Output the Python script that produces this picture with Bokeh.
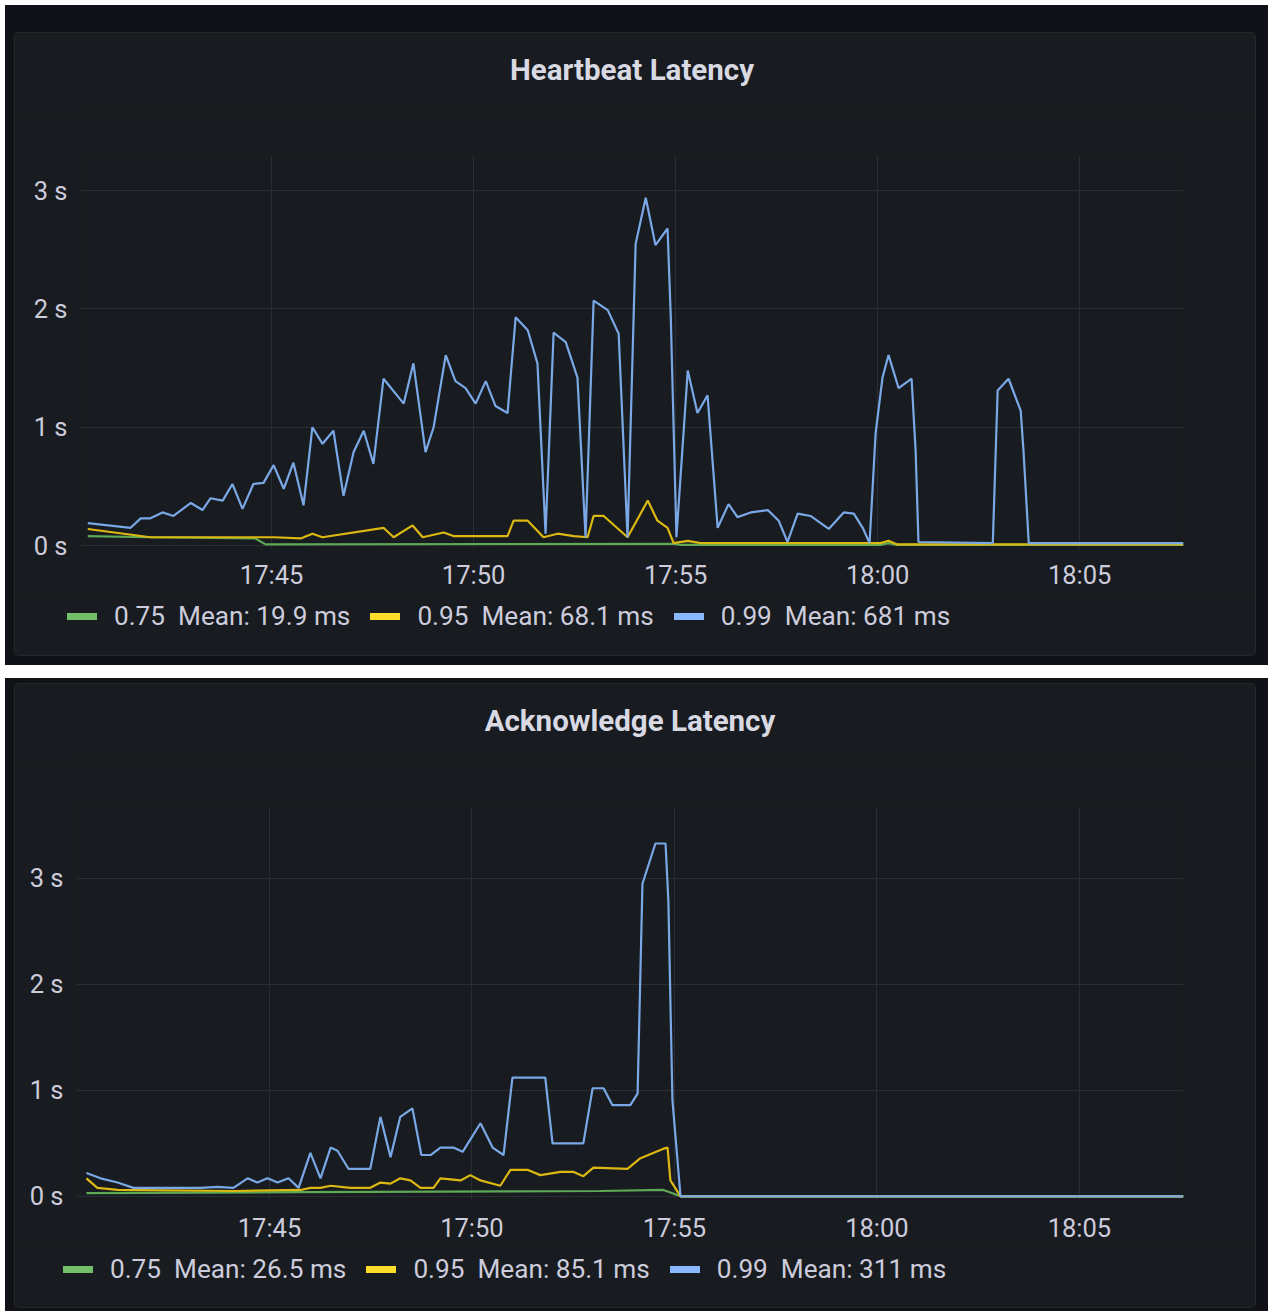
from bokeh.plotting import figure
from bokeh.models import (Column, Legend, LegendItem, FixedTicker, PrintfTickFormatter,
                          Range1d)
from bokeh.embed import file_html
from bokeh.resources import INLINE

# ---------------- data (time = minutes after 17:40, value = seconds) ----------------
x_tick_pos = [5, 10, 15, 20, 25]
x_tick_labels = ["17:45", "17:50", "17:55", "18:00", "18:05"]
y_ticks = [0, 1, 2, 3]

series_names = ["0.75", "0.95", "0.99"]
series_colors = ["#73bf69", "#fade2a", "#8ab8ff"]
line_colors = ["#5ea955", "#dcb812", "#7aa8e6"]

hb_title = "Heartbeat Latency"
hb_means = ["19.9 ms", "68.1 ms", "681 ms"]

hb_t75 = [0.45, 2.00, 4.60, 4.85, 14.95, 15.12, 20.07, 20.27, 20.47, 27.57]
hb_v75 = [0.08, 0.07, 0.06, 0.01, 0.015, 0.005, 0.005, 0.02, 0.005, 0.005]

hb_t95 = [0.45, 2.00, 5.05, 5.72, 6.01, 6.26, 7.77, 8.02, 8.49, 8.74, 9.26, 9.50, 10.84,
          10.99, 11.34, 11.73, 12.08, 12.48, 12.82, 12.97, 13.22, 13.81, 14.31, 14.55,
          14.80, 14.95, 15.30, 15.62, 20.07, 20.27, 20.47, 27.57]
hb_v95 = [0.14, 0.07, 0.07, 0.06, 0.10, 0.07, 0.15, 0.07, 0.17, 0.07, 0.11, 0.08, 0.08,
          0.21, 0.21, 0.07, 0.10, 0.08, 0.07, 0.25, 0.25, 0.07, 0.38, 0.21,
          0.15, 0.02, 0.04, 0.02, 0.02, 0.04, 0.01, 0.01]

hb_t99 = [0.45, 1.51, 1.76, 2.00, 2.30, 2.57, 3.00, 3.29, 3.49, 3.79,
          4.03, 4.28, 4.55, 4.80, 5.05, 5.30, 5.54, 5.79, 6.01, 6.26,
          6.53, 6.78, 7.03, 7.28, 7.52, 7.77, 8.27, 8.51, 8.81, 9.01,
          9.31, 9.55, 9.80, 10.05, 10.30, 10.54, 10.84, 11.04, 11.34, 11.58,
          11.78, 11.98, 12.28, 12.57, 12.77, 12.97, 13.32, 13.59, 13.81, 14.01,
          14.26, 14.50, 14.80, 14.88, 15.02, 15.30, 15.54, 15.79, 16.04, 16.31,
          16.53, 16.86, 17.28, 17.55, 17.77, 18.02, 18.34, 18.59, 18.79, 19.16,
          19.41, 19.63, 19.80, 19.95, 20.12, 20.27, 20.52, 20.84, 20.94, 21.01,
          22.85, 22.97, 23.24, 23.54, 23.61, 23.74, 27.57]
hb_v99 = [0.19, 0.15, 0.23, 0.23, 0.28, 0.25, 0.36, 0.30, 0.40, 0.38,
          0.52, 0.31, 0.52, 0.53, 0.68, 0.48, 0.70, 0.34, 1.00, 0.86,
          0.97, 0.42, 0.79, 0.97, 0.69, 1.41, 1.20, 1.54, 0.79, 1.00,
          1.61, 1.39, 1.33, 1.20, 1.39, 1.18, 1.12, 1.93, 1.82, 1.54,
          0.10, 1.80, 1.72, 1.42, 0.07, 2.07, 1.99, 1.79, 0.07, 2.55,
          2.94, 2.54, 2.68, 1.93, 0.07, 1.48, 1.12, 1.27, 0.15, 0.35,
          0.24, 0.28, 0.30, 0.21, 0.03, 0.27, 0.25, 0.19, 0.14, 0.28,
          0.27, 0.15, 0.02, 0.95, 1.42, 1.61, 1.33, 1.41, 0.80, 0.03,
          0.02, 1.31, 1.41, 1.14, 0.80, 0.02, 0.02]

ack_title = "Acknowledge Latency"
ack_means = ["26.5 ms", "85.1 ms", "311 ms"]

ack_t75 = [0.48, 5.77, 13.17, 14.73, 15.15, 27.57]
ack_v75 = [0.03, 0.04, 0.05, 0.06, 0.0, 0.0]

ack_t95 = [0.48, 0.75, 1.25, 4.11, 5.77, 6.01, 6.26, 6.51, 7.00, 7.49, 7.74, 7.99, 8.23,
           8.48, 8.73, 9.05, 9.22, 9.72, 9.96, 10.21, 10.70, 10.95, 11.37, 11.69, 12.19,
           12.51, 12.75, 13.00, 13.84, 14.16, 14.73, 14.83, 14.90, 15.15, 27.57]
ack_v95 = [0.17, 0.08, 0.06, 0.05, 0.06, 0.08, 0.08, 0.10, 0.08, 0.08, 0.13, 0.12, 0.17,
           0.15, 0.08, 0.08, 0.17, 0.15, 0.20, 0.15, 0.10, 0.25, 0.25, 0.20, 0.23,
           0.23, 0.19, 0.27, 0.26, 0.36, 0.45, 0.46, 0.15, 0.0, 0.0]

ack_t99 = [0.48, 0.83, 1.25, 1.64, 2.48, 3.30, 3.72, 4.11, 4.46, 4.70, 4.95, 5.20, 5.47,
           5.72, 6.01, 6.26, 6.51, 6.68, 6.95, 7.49, 7.74, 7.99, 8.23, 8.53, 8.75, 8.98,
           9.22, 9.54, 9.77, 10.21, 10.51, 10.78, 11.00, 11.81, 11.99, 12.75, 12.98, 13.25,
           13.47, 13.91, 14.09, 14.21, 14.53, 14.78, 14.85, 14.95, 15.15, 27.57]
ack_v99 = [0.22, 0.17, 0.13, 0.08, 0.08, 0.08, 0.09, 0.08, 0.17, 0.13, 0.17, 0.13, 0.17,
           0.08, 0.41, 0.17, 0.46, 0.43, 0.26, 0.26, 0.75, 0.37, 0.75, 0.83, 0.39, 0.39,
           0.46, 0.46, 0.42, 0.69, 0.46, 0.39, 1.12, 1.12, 0.50, 0.50, 1.02, 1.02,
           0.86, 0.86, 0.97, 2.95, 3.33, 3.33, 2.79, 0.91, 0.0, 0.0]

# ---------------- styling ----------------
PANEL = "#181b1f"
OUTER = "#111217"
TEXT = "#ccccdc"
GRID = "#2a2d33"
FONT = "Roboto"
NAN = float("nan")


def blank_fig(width, height, **kw):
    f = figure(width=width, height=height, x_range=Range1d(0, 1), y_range=Range1d(0, 1),
               output_backend="svg", toolbar_location=None,
               x_axis_location=None, y_axis_location=None,
               background_fill_color=PANEL, border_fill_color=PANEL, min_border=0, **kw)
    f.outline_line_color = None
    f.grid.visible = False
    return f


def make_head(title, width, height, standoff):
    h = blank_fig(width, height, title=title)
    h.title.align = "center"
    h.title.text_font = FONT
    h.title.text_font_style = "bold"
    h.title.text_font_size = "29.5px"
    h.title.text_color = "#d8d9e3"
    h.title.standoff = standoff
    return h


def make_chart(xr, yr, series, width, height, borders, x_standoff):
    p = figure(width=width, height=height, x_range=Range1d(*xr), y_range=Range1d(*yr),
               output_backend="svg", toolbar_location=None, title=None,
               background_fill_color=PANEL, border_fill_color=PANEL,
               min_border_left=borders[0], min_border_right=borders[1],
               min_border_top=borders[2], min_border_bottom=borders[3])
    p.outline_line_color = None
    for ax in (p.xaxis[0], p.yaxis[0]):
        ax.axis_line_color = None
        ax.major_tick_line_color = None
        ax.minor_tick_line_color = None
        ax.major_label_text_color = TEXT
        ax.major_label_text_font = FONT
        ax.major_label_text_font_size = "25.5px"
    p.xaxis.ticker = FixedTicker(ticks=x_tick_pos)
    p.xaxis.major_label_overrides = dict(zip(x_tick_pos, x_tick_labels))
    p.xaxis.major_label_standoff = x_standoff
    p.yaxis.ticker = FixedTicker(ticks=y_ticks)
    p.yaxis.formatter = PrintfTickFormatter(format="%d s")
    p.yaxis.major_label_standoff = 7
    p.xgrid.ticker = FixedTicker(ticks=x_tick_pos)
    p.ygrid.ticker = FixedTicker(ticks=y_ticks)
    p.grid.grid_line_color = GRID
    p.grid.grid_line_width = 1

    for (t, v), lcol in zip(series, line_colors):
        p.line(x=t, y=v, line_color=lcol, line_width=2.2)
    return p


def make_legend(means, width, height, loc):
    lg = blank_fig(width, height)
    items = []
    for name, col, mean in zip(series_names, series_colors, means):
        proxy = lg.line(x=[NAN], y=[NAN], line_color=col, line_width=7, line_cap="round")
        items.append(LegendItem(label=f"{name}  Mean: {mean}", renderers=[proxy]))
    legend = Legend(items=items, orientation="horizontal", location=loc,
                    background_fill_alpha=0, border_line_alpha=0,
                    label_text_color=TEXT, label_text_font=FONT,
                    label_text_font_size="26.2px", glyph_width=30, glyph_height=20,
                    label_standoff=17, spacing=20, padding=0, margin=0)
    lg.add_layout(legend)
    return Column(children=[lg])


def make_panel(children, margin):
    return Column(children=children, margin=margin,
                  styles={"background-color": PANEL, "border-radius": "4px",
                          "box-shadow": "0 0 0 1px #25272d"})


top_head = make_head(hb_title, 1240, 80, 35)
top_chart = make_chart((0.27, 27.57), (-0.025, 3.297),
                       [(hb_t75, hb_v75), (hb_t95, hb_v95), (hb_t99, hb_v99)],
                       1240, 482, (65, 72, 42, 47), 5)
top_legend = make_legend(hb_means, 1240, 60, (52, 24))
top_panel = make_panel([top_head, top_chart, top_legend], (28, 13, 10, 10))

bot_head = make_head(ack_title, 1240, 80, 35)
bot_chart = make_chart((0.235, 27.57), (-0.03, 3.67),
                       [(ack_t75, ack_v75), (ack_t95, ack_v95), (ack_t99, ack_v99)],
                       1240, 481, (61, 72, 43, 46), 7)
bot_legend = make_legend(ack_means, 1240, 62, (48, 23))
bot_panel = make_panel([bot_head, bot_chart, bot_legend], (6, 13, 4, 10))

top_wrap = Column(children=[top_panel], styles={"background-color": OUTER}, margin=(5, 0, 0, 5))
bot_wrap = Column(children=[bot_panel], styles={"background-color": OUTER}, margin=(13, 0, 0, 5))
page = Column(children=[top_wrap, bot_wrap])

open("out.html", "w").write(file_html(page, INLINE))
